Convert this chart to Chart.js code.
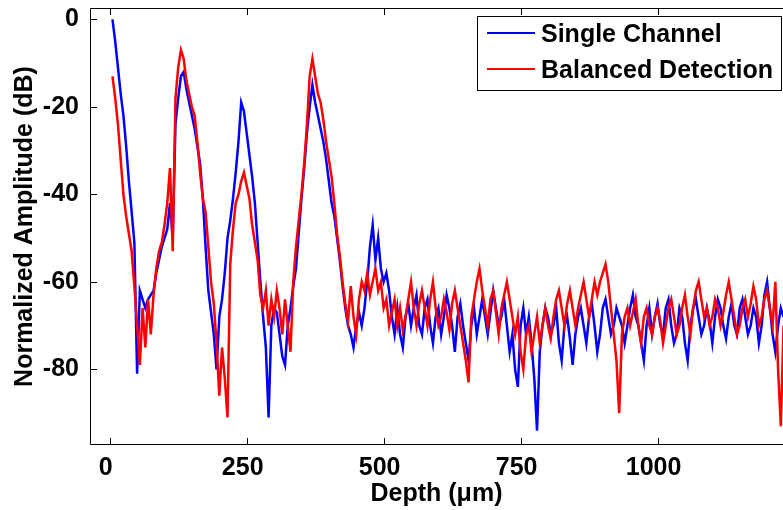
<!DOCTYPE html>
<html>
<head>
<meta charset="utf-8">
<script src="https://cdn.jsdelivr.net/npm/chart.js@4.4.1/dist/chart.umd.min.js"></script>
<style>
  html, body { margin: 0; padding: 0; background: #fff; overflow: hidden; }
</style>
</head>
<body>
<canvas id="depthChart" width="783" height="510"></canvas>
<script>
// Depth positions (um), shared by both traces
const depth = [
  5, 10, 15, 20, 25, 30, 35, 40, 45, 50,
  55, 60, 65, 70, 75, 80, 85, 90, 95, 100,
  105, 110, 115, 120, 125, 130, 135, 140, 145, 150,
  155, 160, 165, 170, 175, 180, 185, 190, 195, 200,
  205, 210, 215, 220, 225, 230, 235, 240, 245, 250,
  255, 260, 265, 270, 275, 280, 285, 290, 295, 300,
  305, 310, 315, 320, 325, 330, 335, 340, 345, 350,
  355, 360, 365, 370, 375, 380, 385, 390, 395, 400,
  405, 410, 415, 420, 425, 430, 435, 440, 445, 450,
  455, 460, 465, 470, 475, 480, 485, 490, 495, 500,
  505, 510, 515, 520, 525, 530, 535, 540, 545, 550,
  555, 560, 565, 570, 575, 580, 585, 590, 595, 600,
  605, 610, 615, 620, 625, 630, 635, 640, 645, 650,
  655, 660, 665, 670, 675, 680, 685, 690, 695, 700,
  705, 710, 715, 720, 725, 730, 735, 740, 745, 750,
  755, 760, 765, 770, 775, 780, 785, 790, 795, 800,
  805, 810, 815, 820, 825, 830, 835, 840, 845, 850,
  855, 860, 865, 870, 875, 880, 885, 890, 895, 900,
  905, 910, 915, 920, 925, 930, 935, 940, 945, 950,
  955, 960, 965, 970, 975, 980, 985, 990, 995, 1000,
  1005, 1010, 1015, 1020, 1025, 1030, 1035, 1040, 1045, 1050,
  1055, 1060, 1065, 1070, 1075, 1080, 1085, 1090, 1095, 1100,
  1105, 1110, 1115, 1120, 1125, 1130, 1135, 1140, 1145, 1150,
  1155, 1160, 1165, 1170, 1175, 1180, 1185, 1190, 1195, 1200,
  1205, 1210, 1215, 1220, 1225, 1230
];

// Single channel (dB)
const singleChannel = [
  0, -5, -11, -17, -22, -29, -37, -44, -51, -81,
  -62, -64, -66, -64, -63, -62, -58, -55, -52, -50,
  -48, -42, -50, -24, -18, -13, -12, -16, -19, -22,
  -25, -29, -33, -41, -52, -62, -67, -72, -80, -68,
  -64, -58, -50, -46, -41, -35, -28, -19, -21, -26,
  -31, -36, -42, -51, -60, -68, -75, -91, -70, -66,
  -67, -72, -77, -79, -70, -66, -61, -57, -49, -41,
  -34, -26, -20, -15, -19, -22, -25, -28, -32, -37,
  -42, -45, -50, -55, -61, -66, -70, -72, -75, -70,
  -67, -70, -66, -60, -52, -47, -55, -50, -57, -60,
  -58, -62, -68, -72, -66, -72, -75, -68, -65, -70,
  -66, -63, -70, -72, -66, -64, -70, -74, -68, -66,
  -72, -68, -63, -66, -70, -76, -68, -65, -70, -74,
  -78, -70, -66, -72, -68, -64, -68, -72, -67, -62,
  -66, -70, -68, -64, -70, -76, -72, -80, -84, -70,
  -66, -72, -68, -74, -82, -94, -76, -70, -66, -68,
  -72, -70, -66, -74, -78, -70, -68, -73, -79, -72,
  -68, -66, -70, -74, -68, -65, -70, -76, -72, -66,
  -64, -68, -72, -70, -66, -68, -70, -74, -70, -66,
  -63, -68, -70, -74, -78, -70, -66, -72, -68, -65,
  -70, -72, -66, -64, -70, -74, -72, -66, -68, -74,
  -78, -70, -66, -64, -68, -72, -70, -66, -69, -74,
  -68, -64, -66, -70, -73, -68, -65, -70, -72, -66,
  -64, -68, -72, -70, -66, -68, -74, -70, -63, -60,
  -66, -72, -76, -70, -66, -68
];

// Balanced detection (dB)
const balanced = [
  -13, -18, -24, -32, -40, -45, -49, -53, -61, -70,
  -79, -66, -75, -64, -72, -63, -57, -53, -51, -47,
  -42, -34, -53, -18, -11, -7, -9, -14, -17, -20,
  -22, -28, -35, -41, -44, -52, -60, -65, -74, -86,
  -75, -82, -91, -56, -48, -42, -40, -37, -35, -38,
  -41, -47, -51, -55, -63, -66, -62, -70, -64, -68,
  -62, -66, -72, -64, -70, -76, -60, -52, -46, -40,
  -33, -24, -13, -9, -13, -17, -19, -23, -28, -32,
  -36, -42, -49, -54, -60, -65, -69, -61, -68, -72,
  -64, -60, -62, -58, -63, -60, -57, -62, -60, -66,
  -64, -70, -67, -64, -70, -66, -71, -68, -64, -60,
  -66, -70, -65, -62, -66, -70, -64, -60, -66, -70,
  -68, -64, -67, -71, -65, -62, -66, -70, -74, -78,
  -83, -68, -64, -60, -57, -62, -66, -70, -64, -62,
  -67, -72, -66, -63, -60, -64, -68, -72, -68, -76,
  -80, -72, -70, -76, -72, -68, -74, -70, -66, -70,
  -73, -68, -64, -62, -66, -70, -65, -62, -66, -70,
  -66, -63, -60, -64, -68, -64, -60, -63, -60, -58,
  -56, -60, -66, -72, -78, -90, -72, -68, -66, -70,
  -67, -64, -70, -74, -68, -66, -70, -72, -68, -66,
  -69, -74, -70, -66, -64, -68, -72, -70, -66, -63,
  -68, -72, -66, -62, -60, -64, -68, -66, -70, -68,
  -64, -66, -70, -67, -63, -60, -64, -68, -72, -70,
  -66, -64, -68, -65, -61, -64, -70, -68, -64, -62,
  -66, -70, -60, -80, -93, -70
];

const xTicks = [0, 250, 500, 750, 1000];
const yTicks = [0, -20, -40, -60, -80];

const FONT = { family: '"Liberation Sans", Arial, sans-serif', size: 25, weight: 'bold' };

// MATLAB-style box with inward ticks
const axesBoxPlugin = {
    id: 'axesBox',
    afterDatasetsDraw(chart) {
        const { ctx, chartArea: a, scales } = chart;
        const len = 7;
        ctx.save();
        ctx.strokeStyle = '#000';
        ctx.lineWidth = 1;
        ctx.beginPath();
        ctx.rect(a.left + 0.5, a.top + 0.5, a.right - a.left, a.bottom - a.top - 1);
        xTicks.forEach(v => {
            const px = Math.round(scales.x.getPixelForValue(v)) + 0.5;
            ctx.moveTo(px, a.bottom);
            ctx.lineTo(px, a.bottom - len);
            ctx.moveTo(px, a.top);
            ctx.lineTo(px, a.top + len);
        });
        yTicks.forEach(v => {
            const py = Math.round(scales.y.getPixelForValue(v)) + 0.5;
            ctx.moveTo(a.left, py);
            ctx.lineTo(a.left + len, py);
        });
        ctx.stroke();
        ctx.restore();
    }
};

// Boxed legend in the upper right corner
const boxLegendPlugin = {
    id: 'boxLegend',
    afterDraw(chart) {
        const { ctx } = chart;
        const box = { left: 477, top: 16, right: 781, bottom: 90 };
        const rows = [33, 69];
        ctx.save();
        ctx.fillStyle = '#fff';
        ctx.fillRect(box.left, box.top, box.right - box.left, box.bottom - box.top);
        ctx.strokeStyle = '#000';
        ctx.lineWidth = 1;
        ctx.strokeRect(box.left + 0.5, box.top + 0.5, box.right - box.left, box.bottom - box.top);
        ctx.font = `${FONT.weight} ${FONT.size}px ${FONT.family}`;
        ctx.textBaseline = 'middle';
        ctx.textAlign = 'left';
        chart.data.datasets.forEach((ds, i) => {
            const y = rows[i];
            ctx.strokeStyle = ds.borderColor;
            ctx.lineWidth = 2;
            ctx.beginPath();
            ctx.moveTo(487, y);
            ctx.lineTo(535, y);
            ctx.stroke();
            ctx.fillStyle = '#000';
            ctx.fillText(ds.label, 541, y + 2);
        });
        ctx.restore();
    }
};

function toPoints(values) {
    return depth.map((d, i) => ({ x: d, y: values[i] }));
}

// keep the plot box where the reference has it, whatever the label overhang
function noOverhang(scale) {
    scale.paddingTop = 0;
    scale.paddingBottom = 0;
    scale.paddingLeft = 0;
    scale.paddingRight = 0;
}

function initChart() {
    const ctx = document.getElementById('depthChart').getContext('2d');
    Chart.defaults.color = '#000';

    const config = {
        type: 'line',
        data: {
            datasets: [
                {
                    label: 'Single Channel',
                    data: toPoints(singleChannel),
                    borderColor: '#0000ff',
                    borderWidth: 2.5,
                    pointRadius: 0,
                    tension: 0,
                    order: 2
                },
                {
                    label: 'Balanced Detection',
                    data: toPoints(balanced),
                    borderColor: '#ff0000',
                    borderWidth: 2.5,
                    pointRadius: 0,
                    tension: 0,
                    order: 1
                }
            ]
        },
        options: {
            responsive: false,
            animation: false,
            layout: { padding: { top: 8, left: 0, right: 0, bottom: 0 } },
            plugins: {
                legend: { display: false },
                tooltip: { enabled: false }
            },
            scales: {
                x: {
                    type: 'linear',
                    min: -36,
                    max: 1229,
                    grid: { display: false },
                    border: { display: false },
                    afterBuildTicks: (scale) => { scale.ticks = xTicks.map(v => ({ value: v })); },
                    afterFit: (scale) => { scale.height = 65; noOverhang(scale); },
                    ticks: {
                        font: FONT,
                        padding: 0,
                        labelOffset: -4,
                        maxRotation: 0,
                        callback: (v) => String(v)
                    },
                    title: {
                        display: true,
                        text: 'Depth (\u03bcm)',
                        font: FONT,
                        padding: { top: 0, bottom: 1 }
                    }
                },
                y: {
                    type: 'linear',
                    min: -97.3,
                    max: 2.6,
                    grid: { display: false },
                    border: { display: false },
                    afterBuildTicks: (scale) => { scale.ticks = yTicks.map(v => ({ value: v })); },
                    afterFit: (scale) => { scale.width = 90; noOverhang(scale); },
                    ticks: {
                        font: FONT,
                        padding: 3,
                        callback: (v) => String(v)
                    },
                    title: {
                        display: true,
                        text: 'Normalized Amplitude (dB)',
                        font: FONT,
                        padding: { top: 10, bottom: 0 }
                    }
                }
            }
        },
        plugins: [axesBoxPlugin, boxLegendPlugin]
    };

    new Chart(ctx, config);
}

document.addEventListener('DOMContentLoaded', initChart);
</script>
</body>
</html>
